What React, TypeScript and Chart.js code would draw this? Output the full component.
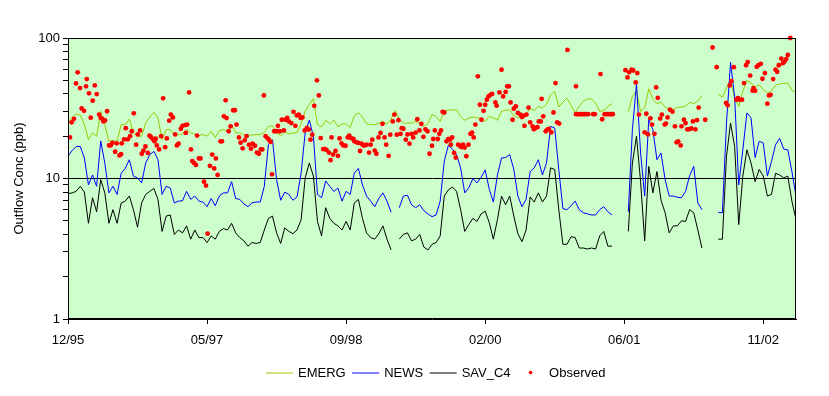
import React, { useEffect, useRef } from 'react';
import { Chart, registerables } from 'chart.js';

Chart.register(...registerables);

const FONT = 'Arial, "Liberation Sans", sans-serif';

// x axis: months after 12/95
const xTickMonths = [0, 17, 34, 51, 68, 85];
const xTickLabels = ['12/95', '05/97', '09/98', '02/00', '06/01', '11/02'];
// y axis (log): tick marks and labelled values
const yTickValues = [1, 2, 3, 4, 5, 6, 7, 8, 9, 10, 20, 30, 40, 50, 60, 70, 80, 90, 100];
const yLabelValues = [1, 10, 100];

// model series, one value every half month starting 12/95
const emerg = [
  24.8, 27.2, 28.8, 28.2, 24.2, 18.9, 21.1, 20.0, 30.1, 24.2,
  18.4, 18.6, 18.4, 24.2, 24.2, 26.5, 21.1, 20.0, 20.0, 24.8,
  27.4, 29.6, 27.0, 18.9, 22.3, 22.3, 20.5, 20.5, 20.7, 22.3,
  21.1, 20.8, 20.2, 20.6, 20.0, 21.6, 19.6, 21.9, 22.3, 21.6,
  24.2, 21.1, 21.1, 20.5, 20.3, 20.4, 20.5, 20.5, 21.3, 23.5,
  23.8, 21.1, 20.2, 21.5, 20.8, 21.1, 21.3, 24.5, 30.1, 33.6,
  37.0, 24.2, 23.3, 26.0, 24.5, 26.0, 23.3, 24.5, 24.5, 23.1,
  27.9, 29.3, 27.4, 24.5, 24.2, 24.1, 24.8, 25.5, 24.4, 26.5,
  30.4, 26.5, 24.8, 24.8, 24.8, 25.5, 24.8, 23.5, 24.5, 28.5,
  27.7, 25.5, 30.1, 30.7, 30.7, 30.9, 27.7, 26.0, 27.0, 27.4,
  27.1, 26.7, 25.5, 27.7, 27.0, 26.0, 30.1, 30.6, 30.9, 28.0,
  27.0, 27.7, 28.5, 31.5, 30.5, 32.6, 31.7, 33.6, 39.4, 41.7,
  32.3, 35.0, 37.3, 33.3, 29.3, 32.6, 35.5, 36.8, 36.8, 34.5,
  30.0, 30.5, 32.6, 34.1, null, null, null, 30.0, 38.4, 42.4,
  30.0, 31.7, 43.5, 36.8, 34.1, 34.9, 32.2, 30.9, 31.2, 32.0,
  32.2, 32.8, 34.8, 34.1, 35.5, 39.0, null, null, null, 39.8,
  38.0, 44.1, 49.9, 37.3, 32.6, 41.8, 49.9, 47.8, 44.7, 46.5,
  42.9, 40.6, 41.8, 46.3, 47.0, 47.5, 47.8, 42.4, 41.0,
];

const news = [
  14.4, 15.8, 16.9, 16.9, 14.0, 9.0, 10.6, 8.8, 18.5, 12.9,
  7.9, 8.8, 7.7, 10.9, 11.8, 13.6, 10.4, 10.1, 9.3, 12.9,
  14.8, 15.6, 13.6, 7.7, 8.8, 8.55, 6.7, 6.9, 6.95, 8.1,
  7.1, 7.5, 6.9, 6.8, 6.3, 7.2, 6.4, 7.5, 7.9, 7.9,
  9.5, 7.2, 7.1, 6.6, 6.3, 6.7, 6.8, 6.8, 8.8, 17.4,
  18.9, 9.8, 7.0, 8.0, 7.7, 7.0, 7.4, 10.9, 21.3, 26.0,
  20.0, 7.7, 7.3, 9.6, 8.8, 8.1, 8.55, 6.9, 8.1, 7.7,
  10.9, 11.8, 9.0, 7.5, 6.9, 6.3, 7.2, 7.9, 6.9, 5.75,
  null, 6.2, 7.5, 7.6, 6.5, 6.2, 6.5, 5.9, 5.6, 5.35,
  5.5, 6.9, 13.3, 17.2, 16.2, 14.8, 11.9, 7.9, 8.6, 10.0,
  9.3, 10.2, 11.5, 8.4, 6.8, 10.6, 14.0, 14.1, 14.8, 11.6,
  7.5, 6.3, 7.1, 11.2, 11.9, 13.6, 10.6, 12.9, 23.5, 22.9,
  11.6, 6.1, 6.0, 6.4, 6.9, 6.0, 5.7, 5.6, 5.5, 5.5,
  6.0, 6.3, 5.8, 5.5, null, null, null, 5.8, 22.3, 47.0,
  15.2, 7.5, 26.2, 22.3, 13.6, 15.2, 9.8, 7.5, 7.5, 7.35,
  7.3, 8.1, 10.5, 12.2, 6.7, 6.0, null, null, null, 5.75,
  5.7, 24.8, 67.0, 38.0, 9.0, 16.0, 29.3, 27.0, 14.1, 18.4,
  17.9, 10.4, 13.2, 17.4, 19.3, 16.2, 16.0, 11.2, 7.5,
];

const savC4 = [
  7.8, 7.9, 8.1, 8.8, 8.0, 4.8, 7.3, 5.8, 9.8, 7.9,
  4.8, 6.0, 4.8, 6.7, 6.9, 7.5, 6.0, 4.5, 6.7, 7.7,
  8.1, 8.5, 7.1, 4.2, 5.4, 5.5, 4.0, 4.3, 4.1, 4.6,
  3.7, 4.3, 3.8, 3.8, 3.5, 3.9, 3.7, 4.2, 4.4, 4.3,
  4.8, 4.1, 3.8, 3.6, 3.3, 3.5, 3.45, 3.5, 4.3, 5.2,
  5.4, 4.1, 3.45, 4.45, 4.2, 4.05, 4.3, 5.1, 10.1, 12.9,
  10.4, 4.95, 3.9, 6.2, 5.2, 4.8, 4.6, 4.3, 4.95, 4.3,
  6.7, 7.1, 5.2, 4.1, 3.8, 3.7, 4.05, 4.6, 3.7, 3.1,
  null, 3.7, 4.0, 4.1, 3.6, 3.7, 4.0, 3.25, 3.1, 3.4,
  3.5, 3.9, 7.5, 8.3, 8.7, 8.1, 6.0, 4.2, 4.7, 5.2,
  4.95, 5.6, 5.85, 4.85, 3.7, 5.1, 7.5, 6.5, 7.5, 5.4,
  4.05, 3.55, 4.3, 7.4, 6.8, 7.9, 6.8, 7.5, 11.9, 11.6,
  6.0, 3.4, 3.4, 3.85, 3.8, 3.2, 3.2, 3.15, 3.2, 3.15,
  3.9, 4.2, 3.3, 3.3, null, null, null, 4.2, 12.9, 20.0,
  9.5, 3.6, 12.2, 7.9, 11.2, 7.0, 5.7, 4.1, 4.6, 4.6,
  5.0, 4.95, 6.0, 5.7, 4.3, 3.2, null, null, null, 3.7,
  3.7, 14.4, 24.8, 16.9, 4.7, 10.4, 16.0, 12.9, 9.5, 11.6,
  10.4, 7.5, 7.7, 10.9, 10.6, 10.1, 10.4, 6.9, 5.1,
];

// observed samples: month after 12/95 and concentration (ppb)
const obsMonths = [
  0.24, 0.45, 0.73, 0.98, 1.18, 1.47, 1.67, 1.96, 2.2, 2.29, 2.57, 2.78, 3.02, 3.27, 3.51, 3.8, 4.0, 4.2, 4.33, 4.53,
  4.78, 5.02, 5.22, 5.43, 5.76, 5.96, 6.29, 6.49, 6.57, 6.86, 7.06, 7.31, 7.59, 7.8, 8.04, 8.33, 8.53, 8.82, 9.02, 9.22,
  9.47, 9.76, 9.96, 10.12, 10.37, 10.57, 10.73, 10.86, 11.14, 11.39, 11.63, 11.88, 12.08, 12.37, 12.57, 12.82, 13.1, 13.31, 13.51, 13.8,
  14.0, 14.33, 14.57, 14.4, 14.8, 15.03, 15.19, 15.4, 15.64, 15.78, 16.0, 16.2, 16.63, 16.87, 17.07, 17.35, 17.63, 17.87, 18.08, 18.29,
  18.65, 18.82, 19.06, 19.27, 19.39, 19.64, 19.88, 20.2, 20.4, 20.6, 20.9, 21.1, 21.35, 21.6, 21.83, 22.12, 22.37, 22.57, 22.86, 23.1,
  23.34, 23.58, 23.75, 23.95, 24.16, 24.36, 24.57, 24.77, 24.94, 25.22, 25.5, 25.66, 25.9, 26.14, 26.39, 26.6, 26.8, 27.0, 27.3, 27.57,
  27.8, 27.98, 28.2, 28.45, 28.66, 28.94, 29.2, 29.45, 29.65, 29.86, 30.1, 30.43, 30.67, 30.9, 31.2, 31.4, 31.6, 31.9, 32.1, 32.22,
  32.4, 32.7, 33.0, 33.2, 33.44, 33.65, 33.93, 34.2, 34.38, 34.6, 34.9, 35.0, 35.3, 35.5, 35.7, 35.9, 36.1, 36.3, 36.5, 36.8,
  37.0, 37.2, 37.5, 37.7, 37.96, 38.2, 38.45, 38.7, 38.9, 39.2, 39.4, 39.7, 39.9, 40.2, 40.4, 40.65, 40.8, 41.0, 41.3, 41.5,
  41.75, 42.0, 42.2, 42.5, 42.7, 42.97, 43.2, 43.45, 43.7, 43.95, 44.2, 44.5, 44.65, 44.85, 45.2, 45.4, 45.6, 45.8, 46.0, 46.27,
  46.5, 46.7, 46.8, 46.97, 47.2, 47.4, 47.7, 47.9, 48.1, 48.3, 48.5, 48.7, 48.96, 49.2, 49.4, 49.6, 49.8, 50.1, 50.35, 50.55,
  50.8, 51.0, 51.2, 51.4, 51.65, 51.85, 52.25, 52.4, 52.75, 53.0, 53.2, 53.5, 53.7, 53.9, 54.1, 54.35, 54.5, 54.75, 55.0, 55.3,
  55.5, 55.7, 55.8, 56.05, 56.3, 56.5, 56.8, 56.95, 57.15, 57.4, 57.55, 57.8, 57.9, 58.1, 58.4, 58.6, 58.8, 59.1, 59.35, 59.6,
  59.8, 60.05, 61.06, 62.1, 62.1, 62.3, 62.5, 62.7, 62.9, 63.1, 63.3, 63.6, 64.2, 64.4, 65.1, 65.3, 65.6, 65.8, 66.0, 66.2,
  66.4, 66.6, 68.15, 68.4, 68.6, 68.9, 69.1, 69.4, 69.6, 69.8, 70.5, 70.7, 70.9, 71.2, 71.4, 71.7, 71.9, 72.1, 72.4, 72.6,
  72.95, 73.1, 73.3, 73.6, 73.9, 74.2, 74.4, 74.6, 74.9, 75.0, 75.3, 75.5, 75.7, 75.9, 76.2, 76.4, 76.7, 76.9, 77.1, 77.9,
  78.8, 79.3, 80.45, 80.65, 80.9, 81.1, 81.4, 81.7, 81.9, 82.1, 82.4, 82.65, 82.9, 83.1, 83.4, 83.7, 83.8, 84.0, 84.2, 84.4,
  84.7, 84.9, 85.2, 85.5, 85.7, 85.9, 86.2, 86.5, 86.7, 86.9, 87.2, 87.4, 87.6, 87.8, 88.0, 88.3,
];
const obsValues = [
  19.6, 25.1, 26.6, 47.5, 57, 44, 31.5, 30.3, 45.3, 51, 40.4, 27.1, 35.8, 46, 39.9, 28.5, 27, 26.6, 25.5, 25.9,
  30.1, 17.2, 17.2, 17.9, 15.5, 17.8, 14.6, 14.9, 17.8, 19, 22.8, 19, 20, 21.7, 29.1, 17.4, 20.6, 22, 15, 15.8,
  16.9, 15.2, 20.2, 19.8, 19.1, 18.4, 19.2, 17.2, 16.1, 20, 37.2, 16.7, 19.3, 25.8, 28.5, 27.2, 20.6, 17.2, 17.7, 22.6,
  23.7, 24, 24.2, 21.1, 41, 16.1, 13.3, 12.9, 12.5, 20.2, 13.9, 13.9, 9.5, 8.9, 4.05, 12.3, 14.8, 11.8, 13.9, 10.6,
  18.4, 18.4, 27.7, 36, 26.9, 21.7, 23.5, 30.6, 30.6, 24.2, 19.6, 18, 16.4, 18.7, 20, 17.4, 16.3, 17.7, 17.1, 15.3,
  15, 16.1, 16.1, 39, 20, 19.4, 18.9, 18.2, 10.7, 21.7, 21.7, 23.7, 21.7, 26.2, 22, 26.2, 27, 25.5, 24.8, 29.8,
  23.7, 28.1, 28.5, 27, 27.2, 22, 22.9, 22.3, 18.9, 20.5, 32.9, 50, 39, 19.4, 16.2, 16.2, 16, 15.3, 13.5, 19.6,
  14.8, 15.7, 14.5, 19.3, 17.8, 17.2, 17.1, 19.6, 20.2, 19.4, 19.1, 18.4, 18.1, 17.9, 15.7, 17.7, 17.2, 17.2, 17.4, 15.3,
  17.4, 18.9, 15.8, 15, 19.6, 21.1, 24.5, 19.6, 17.4, 14.5, 20.5, 25.5, 28.5, 20.5, 26, 20.8, 22.8, 22.6, 18.9, 20.6,
  17.7, 20.8, 19.6, 21.2, 26.4, 22, 24.5, 19.8, 22.4, 21.7, 15, 17.1, 19.1, 22, 19.1, 20.8, 22, 29.8, 29.5, 18.4,
  19.1, 18.9, 17.4, 19.6, 15.2, 14.1, 17.4, 17.1, 16.7, 17.4, 16.6, 14.4, 17.4, 20.8, 21.2, 19.6, 24.2, 53.4, 33.5, 26.2,
  30.3, 33.5, 36.4, 38.4, 39.4, 40, 34.8, 33, 41, 59.5, 38.4, 41.3, 45.3, 45.3, 34.8, 26.2, 31.4, 32.6, 29.3, 28.5,
  27.4, 28, 23.7, 28.5, 32, 25.1, 23.5, 22.4, 22.9, 23.2, 25.5, 25.5, 36.9, 27.7, 21.7, 22.3, 22.5, 21.3, 29.5, 47.8,
  25.1, 24.6, 82.3, 45.3, 28.7, 28.7, 28.7, 28.7, 28.7, 28.7, 28.7, 28.7, 28.7, 28.7, 55.4, 26.4, 28.7, 28.7, 28.7, 28.7,
  28.7, 28.7, 59, 52.4, 57, 59.5, 58.7, 48.3, 56.3, 28.5, 21.3, 28.9, 20.6, 26.8, 24.2, 20.8, 44.5, 37.5, 26.7, 28.5,
  24.2, 24.6, 27.2, 30.9, 29.9, 23.5, 18.1, 18.4, 17.2, 23.5, 26.2, 24.8, 22.4, 22.4, 22.7, 25.5, 22.4, 26, 32, 26.2,
  85.6, 62, 34.5, 33.2, 46, 49.4, 62, 36.4, 37.3, 36.4, 36.4, 47.8, 64, 67.4, 54, 42.2, 44, 42.2, 62.4, 64,
  65.5, 51.3, 56.3, 34.1, 39, 39.4, 51, 59.5, 57.4, 64, 71.4, 66.2, 68, 70.8, 75.7, 100,
];

const toPoints = (vals: (number | null)[]) => vals.map((v, i) => ({ x: i / 2, y: v }));

const framePlugin = {
  id: 'frameAndLegend',
  beforeDraw(chart: any) {
    const { ctx, chartArea } = chart;
    ctx.save();
    ctx.fillStyle = '#CCFFCC';
    ctx.fillRect(chartArea.left, chartArea.top, chartArea.right - chartArea.left, chartArea.bottom - chartArea.top);
    ctx.restore();
  },
  afterDraw(chart: any) {
    const { ctx, chartArea } = chart;
    ctx.save();
    ctx.strokeStyle = '#000';
    ctx.lineWidth = 1;
    ctx.strokeRect(
      Math.round(chartArea.left) + 0.5,
      Math.round(chartArea.top) + 0.5,
      Math.round(chartArea.right - chartArea.left) - 1,
      Math.round(chartArea.bottom - chartArea.top) - 1
    );
    // legend
    ctx.font = '13px ' + FONT;
    ctx.textBaseline = 'middle';
    ctx.textAlign = 'left';
    let x = 266;
    const y = 372.5;
    chart.data.datasets.forEach((ds: any) => {
      if (ds.type === 'scatter') {
        ctx.fillStyle = ds.backgroundColor;
        ctx.beginPath();
        ctx.arc(x + 13.5, y, 1.8, 0, Math.PI * 2);
        ctx.fill();
      } else {
        ctx.strokeStyle = ds.borderColor;
        ctx.lineWidth = 1;
        ctx.beginPath();
        ctx.moveTo(x, y + 0.5);
        ctx.lineTo(x + 27, y + 0.5);
        ctx.stroke();
      }
      x += 32;
      ctx.fillStyle = '#000';
      ctx.fillText(ds.label, x, y + 1);
      x += ctx.measureText(ds.label).width + 6.5;
    });
    ctx.restore();
  },
};

export default function App() {
  const ref = useRef<HTMLCanvasElement | null>(null);

  useEffect(() => {
    if (!ref.current) return;
    const chart = new Chart(ref.current, {
      type: 'line',
      data: {
        datasets: [
          {
            type: 'line',
            label: 'EMERG',
            data: toPoints(emerg),
            borderColor: '#99CC00',
            borderWidth: 1,
            pointRadius: 0,
            tension: 0,
            spanGaps: false,
            order: 3,
          },
          {
            type: 'line',
            label: 'NEWS',
            data: toPoints(news),
            borderColor: '#0000FF',
            borderWidth: 1,
            pointRadius: 0,
            tension: 0,
            spanGaps: false,
            order: 2,
          },
          {
            type: 'line',
            label: 'SAV_C4',
            data: toPoints(savC4),
            borderColor: '#000000',
            borderWidth: 1,
            pointRadius: 0,
            tension: 0,
            spanGaps: false,
            order: 1,
          },
          {
            type: 'scatter',
            label: 'Observed',
            data: obsMonths.map((m, i) => ({ x: m, y: obsValues[i] })),
            backgroundColor: '#FF0000',
            borderColor: '#FF0000',
            borderWidth: 0,
            pointRadius: 2.4,
            pointHoverRadius: 2.4,
            clip: false,
            order: 0,
          } as any,
        ],
      },
      options: {
        animation: false,
        responsive: false,
        maintainAspectRatio: false,
        events: [],
        layout: { padding: { left: 0, top: 38, right: 33, bottom: 0 } },
        plugins: {
          legend: { display: false },
          tooltip: { enabled: false },
          title: { display: false },
        },
        scales: {
          x: {
            type: 'linear',
            min: 0,
            max: 89,
            afterBuildTicks: (scale: any) => {
              scale.ticks = xTickMonths.map((v) => ({ value: v }));
            },
            afterFit: (scale: any) => {
              scale.height = 77;
            },
            ticks: {
              autoSkip: false,
              maxRotation: 0,
              padding: 9,
              color: '#000',
              font: { family: FONT, size: 13 },
              callback: (v: any) => {
                const idx = xTickMonths.indexOf(Number(v));
                return idx >= 0 ? xTickLabels[idx] : '';
              },
            },
            grid: {
              drawOnChartArea: false,
              drawTicks: true,
              tickLength: 5,
              tickColor: '#000',
            },
            border: { display: true, color: '#000', width: 1 },
          },
          y: {
            type: 'logarithmic',
            min: 1,
            max: 100,
            afterBuildTicks: (scale: any) => {
              scale.ticks = yTickValues.map((v) => ({ value: v, major: yLabelValues.includes(v) }));
            },
            afterFit: (scale: any) => {
              scale.width = 68;
            },
            ticks: {
              autoSkip: false,
              padding: 3,
              color: '#000',
              font: { family: FONT, size: 13 },
              callback: (v: any) => (yLabelValues.includes(Number(v)) ? String(v) : ''),
            },
            grid: {
              drawOnChartArea: true,
              drawTicks: true,
              tickLength: 5,
              tickColor: '#000',
              color: (c: any) => (c.tick && c.tick.value === 10 ? '#000' : 'rgba(0,0,0,0)'),
            },
            border: { display: true, color: '#000', width: 1 },
            title: {
              display: true,
              text: 'Outflow Conc (ppb)',
              color: '#000',
              font: { family: FONT, size: 13 },
              padding: { top: 12, bottom: 0 },
            },
          },
        },
      },
      plugins: [framePlugin],
    });
    return () => chart.destroy();
  }, []);

  return (
    <div style={{ position: 'absolute', left: 0, top: 0, width: 829, height: 396, background: '#fff' }}>
      <canvas ref={ref} width={829} height={396} style={{ display: 'block', width: 829, height: 396 }} />
    </div>
  );
}
